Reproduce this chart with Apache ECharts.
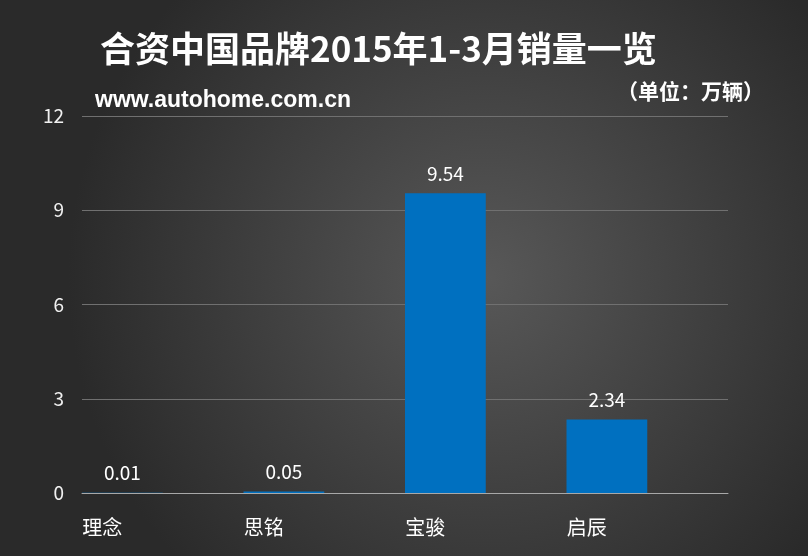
<!DOCTYPE html>
<html><head><meta charset="utf-8">
<script src="https://cdn.jsdelivr.net/npm/echarts@6/dist/echarts.min.js"></script>
<style>html,body{margin:0;padding:0;background:#3a3a3a;}#c{width:808px;height:556px;}</style>
</head><body><div id="c"></div>
<script>
const categories = ['理念', '思铭', '宝骏', '启辰'];
const sales = [0.01, 0.05, 9.54, 2.34];
const yTicks = [0, 3, 6, 9, 12];
const titleText = '合资中国品牌2015年1-3月销量一览';
const siteText = 'www.autohome.com.cn';
const unitText = '（单位：万辆）';

const numFont = '"Liberation Sans Narrow", "Noto Sans CJK SC", sans-serif';
const cjkFont = '"Noto Sans CJK SC", sans-serif';

const chart = echarts.init(document.getElementById('c'));
chart.setOption({
  backgroundColor: {
    type: 'radial', x: 0.6, y: 0.5, r: 0.75,
    colorStops: [{offset: 0, color: '#585858'}, {offset: 1, color: '#2a2a2a'}]
  },
  title: [
    {text: titleText, left: 95, top: 26, textStyle: {color: '#fff', fontSize: 35, fontWeight: 'bold', fontFamily: cjkFont}},
    {text: siteText, left: 90, top: 84, textStyle: {color: '#fff', fontSize: 23, fontWeight: 'bold', fontFamily: '"Liberation Sans", sans-serif'}},
    {text: unitText, left: 612, top: 76, textStyle: {color: '#fff', fontSize: 21, fontWeight: 'bold', fontFamily: cjkFont}}
  ],
  grid: {left: 82, right: 80, top: 116, bottom: 63, containLabel: false},
  xAxis: {
    type: 'category', data: categories, boundaryGap: true,
    axisLine: {lineStyle: {color: '#a8a8a8', width: 1}},
    axisTick: {show: false},
    axisLabel: {
      color: '#fff', fontSize: 20, fontFamily: cjkFont, margin: 24,
      formatter: v => '{a|' + v + '}',
      rich: {a: {width: 161, align: 'left', color: '#fff', fontSize: 20, fontFamily: cjkFont}}
    }
  },
  yAxis: {
    type: 'value', min: yTicks[0], max: yTicks[yTicks.length - 1], interval: 3,
    axisLine: {show: false}, axisTick: {show: false},
    axisLabel: {color: '#f0f0f0', fontSize: 19, fontFamily: numFont, margin: 18},
    splitLine: {lineStyle: {color: '#707070', width: 1}}
  },
  series: [
    {
      type: 'bar', data: sales, barGap: '0%', barCategoryGap: '0%',
      itemStyle: {color: '#0070c0'},
      label: {show: true, position: 'top', distance: 10, color: '#fff', fontSize: 19, fontFamily: numFont,
        formatter: p => p.value.toFixed(2)}
    },
    {type: 'bar', data: categories.map(() => null), barGap: '0%', barCategoryGap: '0%', silent: true}
  ],
  animation: false
});
</script></body></html>
